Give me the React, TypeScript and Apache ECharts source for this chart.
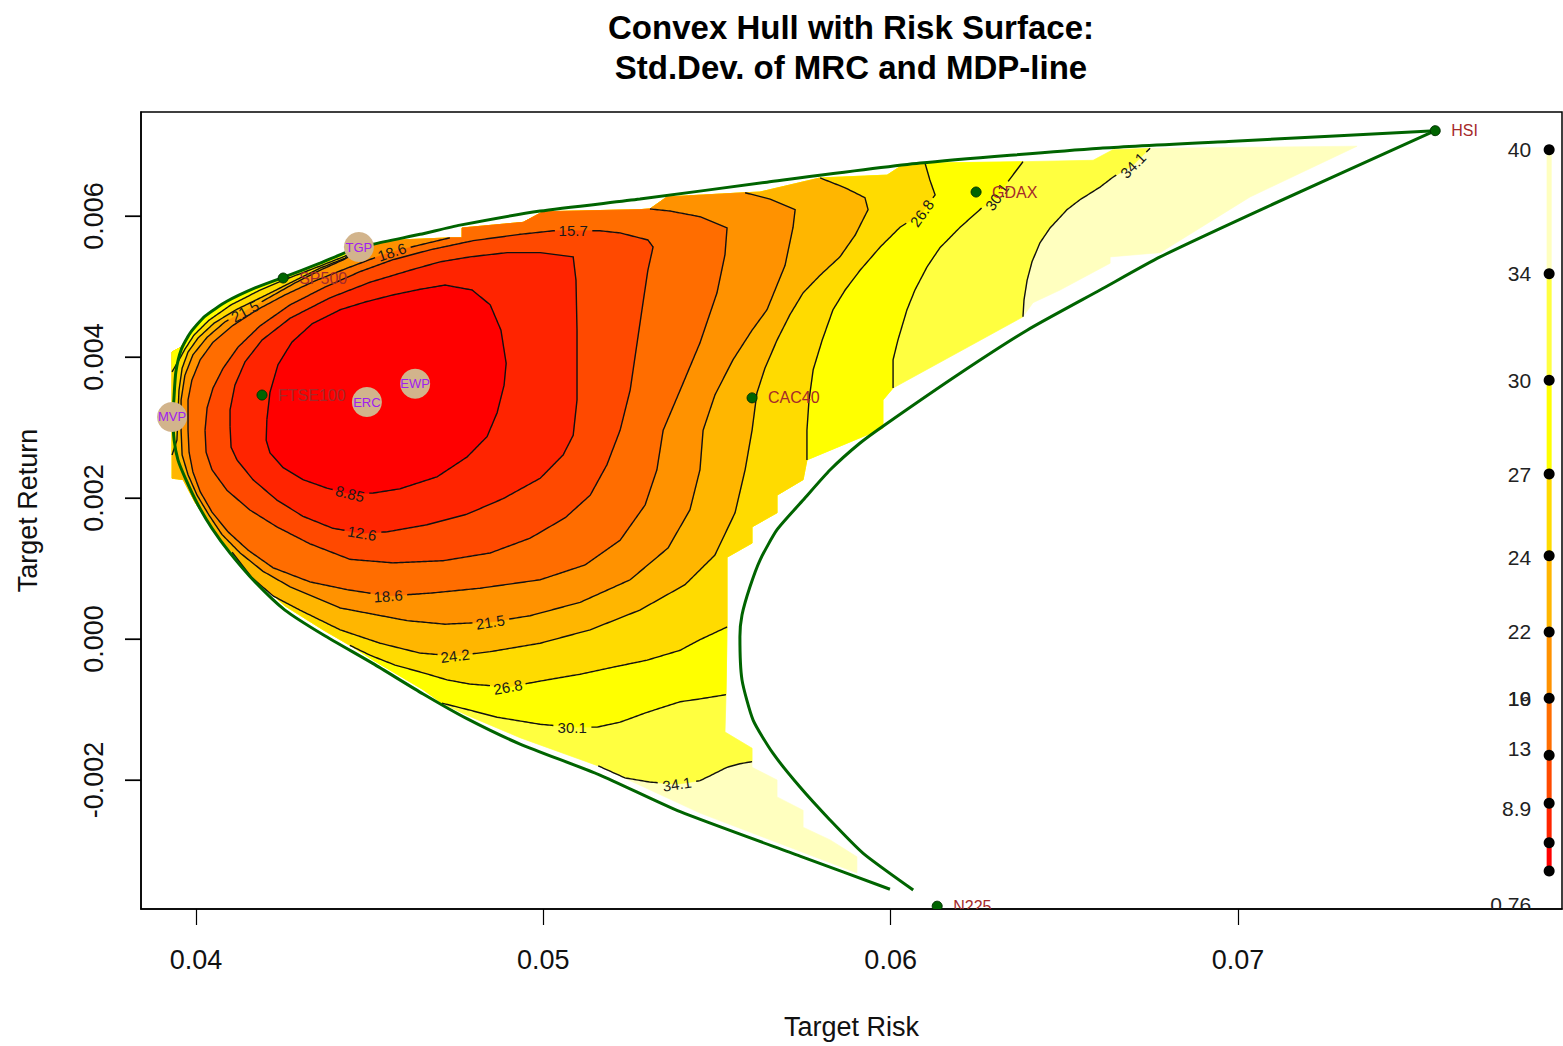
import React, { useEffect, useRef } from "react";
import * as echarts from "echarts";

type P = [number, number];
const FONT = "'Liberation Sans', Arial, Helvetica, sans-serif";

// ---------- axes ----------
const xRange: P = [0.038416, 0.07933];
const yRange: P = [-0.00383, 0.007475];
const xTicks = [0.04, 0.05, 0.06, 0.07];
const yTicks = [-0.002, 0, 0.002, 0.004, 0.006];

// ---------- palette (heat.colors(10)) ----------
const heatColors = ["#FF0000", "#FF2400", "#FF4900", "#FF6D00", "#FF9200", "#FFB600", "#FFDB00", "#FFFF00", "#FFFF40", "#FFFFBF"];

// ---------- rim of the evaluated surface (risk, return), clockwise in chunks ----------
const rim1a: P[] = [[0.04098, 0.00126], [0.0404, 0.00162], [0.03997, 0.00194], [0.03963, 0.00226], [0.03931, 0.00228], [0.03931, 0.00407]];
const rim1b: P[] = [[0.03931, 0.00407], [0.03957, 0.00414], [0.03983, 0.00434], [0.04026, 0.00458], [0.04089, 0.00479], [0.0417, 0.00498], [0.04251, 0.00513], [0.04357, 0.00533], [0.04435, 0.00548], [0.04472, 0.00553]];
const rim2: P[] = [[0.04472, 0.00553], [0.0451, 0.00559], [0.04587, 0.00566], [0.04731, 0.00569]];
const rim3: P[] = [[0.04731, 0.00569], [0.04766, 0.00569], [0.04766, 0.00583], [0.04942, 0.00591], [0.04999, 0.00606], [0.05278, 0.00609], [0.05307, 0.0061]];
const rim4: P[] = [[0.05307, 0.0061], [0.05356, 0.00627], [0.05581, 0.00633]];
const rim5: P[] = [[0.05581, 0.00633], [0.05624, 0.00634], [0.05797, 0.00654]];
const rim6: P[] = [[0.05797, 0.00654], [0.0599, 0.00658], [0.06027, 0.0067], [0.06099, 0.00675]];
const rim7: P[] = [[0.06099, 0.00675], [0.06381, 0.00677]];
const rim8: P[] = [[0.06381, 0.00677], [0.06583, 0.00679], [0.0664, 0.00694], [0.06747, 0.00696]];
const rim9: P[] = [[0.06747, 0.00696], [0.07343, 0.00699], [0.07035, 0.00627], [0.06776, 0.00548], [0.06632, 0.00542], [0.06632, 0.00533], [0.06488, 0.00495], [0.0641, 0.00477], [0.06381, 0.00457]];
const rim10: P[] = [[0.06381, 0.00457], [0.06007, 0.00356]];
const rim11: P[] = [[0.06007, 0.00356], [0.05978, 0.00339], [0.05978, 0.00299], [0.05759, 0.00254]];
const rim12: P[] = [[0.05759, 0.00254], [0.05748, 0.00226], [0.05673, 0.00204], [0.05673, 0.00179], [0.05601, 0.00159], [0.05601, 0.00136], [0.05529, 0.00116], [0.05529, 0.00017]];
const rim13: P[] = [[0.05529, 0.00017], [0.05526, -0.00079]];
const rim14: P[] = [[0.05526, -0.00079], [0.05523, -0.00132], [0.05601, -0.00155], [0.05601, -0.00174]];
const rim15: P[] = [[0.05601, -0.00174], [0.05601, -0.00182], [0.05673, -0.002], [0.05673, -0.00224], [0.05748, -0.00243], [0.05748, -0.00267], [0.05826, -0.00285], [0.05903, -0.00309], [0.05903, -0.00332], [0.05739, -0.00301], [0.05451, -0.00247], [0.05158, -0.0018]];
const rim16: P[] = [[0.05158, -0.0018], [0.04933, -0.0014], [0.0478, -0.00108], [0.04708, -0.00091]];
const rim17: P[] = [[0.04708, -0.00091], [0.04654, -0.00072], [0.0451, -0.0003], [0.04443, -0.00009]];
const rim18: P[] = [[0.04443, -0.00009], [0.04366, 0.00013], [0.04256, 0.00047], [0.0417, 0.00085], [0.04098, 0.00126]];

// ---------- contour lines of Std.Dev. of MRC ----------
const iso885: P[] = [[0.04204, 0.00311], [0.04202, 0.00282], [0.04213, 0.00264], [0.04251, 0.00243], [0.04308, 0.00226], [0.04377, 0.00214], [0.04443, 0.00206], [0.0451, 0.00207], [0.04587, 0.00213], [0.04694, 0.0023], [0.0478, 0.00258], [0.04838, 0.00287], [0.04867, 0.00321], [0.04887, 0.0036], [0.04893, 0.00391], [0.04878, 0.00438], [0.04847, 0.00474], [0.04795, 0.00495], [0.04717, 0.00502], [0.04645, 0.00496], [0.04567, 0.00488], [0.04487, 0.00478], [0.04415, 0.00467], [0.04334, 0.00447], [0.04276, 0.00421], [0.04236, 0.00389], [0.04213, 0.0035], [0.04204, 0.00311]];
const iso126: P[] = [[0.04098, 0.00301], [0.04101, 0.00272], [0.04118, 0.00254], [0.04164, 0.00226], [0.04233, 0.00197], [0.04308, 0.00174], [0.04394, 0.00157], [0.04478, 0.0015], [0.0455, 0.00152], [0.04665, 0.00162], [0.0478, 0.00177], [0.04884, 0.00199], [0.04991, 0.00228], [0.05057, 0.00261], [0.05086, 0.00289], [0.05097, 0.00339], [0.05097, 0.00438], [0.05094, 0.00509], [0.05086, 0.00542], [0.04991, 0.00548], [0.04896, 0.00548], [0.04789, 0.00542], [0.04703, 0.00535], [0.04616, 0.00523], [0.04501, 0.00506], [0.04386, 0.00484], [0.04271, 0.00455], [0.0419, 0.00424], [0.04141, 0.00393], [0.04112, 0.0036], [0.04098, 0.00325], [0.04098, 0.00301]];
const iso157: P[] = [[0.04026, 0.00296], [0.04029, 0.00265], [0.04046, 0.0024], [0.04089, 0.00211], [0.04155, 0.00183], [0.04233, 0.00159], [0.04328, 0.00135], [0.04443, 0.00113], [0.04567, 0.00108], [0.04711, 0.00111], [0.04847, 0.00122], [0.04962, 0.00143], [0.05063, 0.00172], [0.05135, 0.00204], [0.05183, 0.00247], [0.05221, 0.00296], [0.0525, 0.00353], [0.05267, 0.0041], [0.05284, 0.00467], [0.05301, 0.00523], [0.05316, 0.00556], [0.05301, 0.00566], [0.05221, 0.00576], [0.05163, 0.00579], [0.05086, 0.00579], [0.05028, 0.00579], [0.04933, 0.00574], [0.04798, 0.00565], [0.04674, 0.00552], [0.04567, 0.00538], [0.04472, 0.00521], [0.04371, 0.00499], [0.04271, 0.00474], [0.04184, 0.00444], [0.04121, 0.00414], [0.04078, 0.00384], [0.04049, 0.00356], [0.04032, 0.00328], [0.04026, 0.00296]];
const iso186: P[] = [[0.05307, 0.0061], [0.05365, 0.00607], [0.05451, 0.00599], [0.05529, 0.00583], [0.05523, 0.00545], [0.055, 0.00491], [0.05451, 0.0042], [0.05394, 0.00353], [0.05345, 0.00296], [0.05327, 0.0024], [0.05293, 0.0019], [0.05221, 0.0014], [0.0512, 0.00105], [0.04991, 0.00084], [0.04818, 0.00072], [0.04674, 0.00065], [0.04553, 0.00061], [0.04435, 0.0007], [0.04328, 0.00081], [0.04222, 0.00101], [0.0415, 0.00126], [0.04092, 0.00152], [0.04046, 0.0018], [0.04012, 0.00209], [0.03991, 0.00237], [0.0398, 0.00265], [0.03977, 0.00296], [0.03977, 0.00339], [0.03988, 0.00367], [0.04012, 0.00396], [0.04049, 0.00421], [0.04104, 0.00444], [0.04176, 0.00467], [0.04256, 0.00488], [0.04343, 0.00508], [0.04435, 0.00526], [0.04521, 0.00542], [0.04564, 0.00549], [0.04645, 0.00559], [0.04731, 0.00569]];
const iso215: P[] = [[0.05581, 0.00633], [0.05653, 0.00624], [0.05725, 0.00609], [0.05719, 0.00584], [0.05696, 0.0053], [0.05644, 0.00467], [0.05601, 0.00438], [0.05546, 0.00396], [0.05494, 0.00346], [0.0546, 0.00296], [0.05451, 0.0024], [0.05422, 0.00183], [0.05359, 0.00129], [0.0525, 0.00084], [0.05106, 0.00052], [0.04962, 0.00033], [0.04847, 0.00024], [0.04717, 0.00021], [0.04608, 0.00026], [0.04415, 0.00044], [0.04271, 0.00074], [0.04193, 0.00096], [0.04127, 0.00122], [0.04075, 0.00148], [0.04037, 0.00176], [0.04003, 0.00204], [0.03977, 0.00233], [0.0396, 0.00261], [0.03957, 0.00296], [0.03957, 0.00339], [0.03968, 0.00374], [0.03991, 0.00403], [0.04032, 0.00428], [0.04084, 0.0045], [0.04141, 0.00465], [0.04213, 0.00485], [0.04285, 0.00505], [0.04357, 0.00523], [0.04429, 0.00539], [0.04478, 0.00553]];
const iso242: P[] = [[0.05797, 0.00654], [0.05869, 0.0064], [0.05926, 0.00626], [0.05935, 0.00609], [0.05898, 0.00573], [0.05854, 0.00542], [0.05797, 0.00516], [0.05748, 0.00491], [0.0571, 0.0046], [0.05673, 0.00424], [0.05638, 0.00384], [0.05615, 0.00349], [0.05601, 0.00296], [0.05581, 0.0024], [0.05552, 0.00179], [0.05494, 0.00119], [0.05408, 0.00077], [0.05278, 0.00041], [0.05135, 0.00013], [0.04991, -0.00006], [0.04847, -0.00018], [0.04746, -0.00024], [0.04645, -0.0002], [0.0453, -0.00006], [0.04415, 0.00013], [0.04299, 0.00041], [0.04222, 0.00061], [0.04161, 0.00087], [0.04104, 0.00123]];
const iso242Left: P[] = [[0.03931, 0.00261], [0.03945, 0.00282], [0.03948, 0.00318], [0.03951, 0.00353], [0.0396, 0.00384], [0.03977, 0.00407], [0.04006, 0.00427], [0.04052, 0.00448], [0.04115, 0.00467], [0.0419, 0.00485], [0.04271, 0.00505], [0.04357, 0.00526], [0.04429, 0.0054], [0.04449, 0.00549]];
const iso268Top: P[] = [[0.06099, 0.00675], [0.06113, 0.00651], [0.06128, 0.0063], [0.0609, 0.00604], [0.06027, 0.00584], [0.0597, 0.00556], [0.05912, 0.00523], [0.05869, 0.00495], [0.05834, 0.00467], [0.05803, 0.00424], [0.05777, 0.00382], [0.05765, 0.00339], [0.05759, 0.00296], [0.05759, 0.00254]];
const iso268Low: P[] = [[0.05529, 0.00017], [0.05451, -0.00001], [0.05394, -0.00016], [0.05299, -0.0003], [0.05201, -0.0004], [0.05106, -0.0005], [0.05011, -0.00058], [0.04898, -0.00068], [0.04789, -0.00064], [0.04723, -0.00058], [0.04654, -0.00048], [0.04573, -0.00037], [0.04501, -0.00023], [0.04443, -0.00009]];
const iso268Left: P[] = [[0.03931, 0.00379], [0.03948, 0.00393], [0.03968, 0.00411], [0.03994, 0.00431], [0.04037, 0.00452], [0.04101, 0.00474], [0.04181, 0.00494], [0.04262, 0.00511], [0.04357, 0.00529], [0.04429, 0.00543], [0.04449, 0.00549]];
const iso301Top: P[] = [[0.06381, 0.00677], [0.06358, 0.00662], [0.06335, 0.00647], [0.06306, 0.00627], [0.06266, 0.00613], [0.062, 0.00584], [0.06142, 0.00555], [0.06105, 0.00528], [0.0607, 0.00495], [0.06047, 0.00467], [0.06021, 0.00424], [0.06007, 0.00396], [0.06007, 0.00356]];
const iso301Low: P[] = [[0.05526, -0.00079], [0.05451, -0.00085], [0.05394, -0.00089], [0.05299, -0.00104], [0.05221, -0.00118], [0.05155, -0.00125], [0.05083, -0.00125], [0.04991, -0.00121], [0.04867, -0.00111], [0.04789, -0.00101], [0.04708, -0.00091]];
const iso341Top: P[] = [[0.06747, 0.00696], [0.06718, 0.00682], [0.06698, 0.00672], [0.0664, 0.00655], [0.06603, 0.00641], [0.06545, 0.00623], [0.06508, 0.00609], [0.06459, 0.00583], [0.0643, 0.00562], [0.06407, 0.00535], [0.06393, 0.00509], [0.06384, 0.00481], [0.06381, 0.00457]];
const iso341Low: P[] = [[0.05601, -0.00174], [0.05566, -0.00177], [0.05529, -0.00182], [0.0548, -0.00194], [0.05451, -0.00201], [0.05385, -0.00206], [0.05307, -0.00203], [0.05235, -0.00197], [0.05158, -0.0018]];

const isoLabelText = ["8.85", "12.6", "15.7", "18.6", "18.6", "21.5", "21.5", "24.2", "26.8", "26.8", "30.1", "30.1", "34.1", "34.1"];
const isoLabelAt: P[] = [[0.04443, 0.00206], [0.04478, 0.0015], [0.05086, 0.00579], [0.04553, 0.00061], [0.04564, 0.00549], [0.04847, 0.00024], [0.04141, 0.00465], [0.04746, -0.00024], [0.0609, 0.00604], [0.04898, -0.00068], [0.06306, 0.00627], [0.05083, -0.00125], [0.06698, 0.00672], [0.05385, -0.00206]];

// ---------- convex hull / frontier ----------
const hullUpper: P[] = [[0.05998, -0.00355], [0.05739, -0.00308], [0.05394, -0.00245], [0.05163, -0.00193], [0.04933, -0.00149], [0.0478, -0.00113], [0.04654, -0.00078], [0.0451, -0.00035], [0.04366, 0.00006], [0.04256, 0.00041], [0.0417, 0.00081], [0.04098, 0.00122], [0.04046, 0.00157], [0.04006, 0.0019], [0.03971, 0.00226], [0.03948, 0.00254], [0.03937, 0.00282], [0.03934, 0.00315], [0.03937, 0.00346], [0.03942, 0.00379], [0.03957, 0.0041], [0.03983, 0.00434], [0.04026, 0.00458], [0.04089, 0.00479], [0.0417, 0.00498], [0.04251, 0.00513], [0.04357, 0.00533], [0.04435, 0.00549], [0.0451, 0.0056], [0.04645, 0.00574], [0.0476, 0.00587], [0.04991, 0.00607], [0.05278, 0.00624], [0.05644, 0.00648], [0.06085, 0.00675], [0.06603, 0.00696], [0.06986, 0.00706], [0.07568, 0.00721]];
const hullLower: P[] = [[0.07568, 0.00721], [0.07084, 0.00613], [0.06776, 0.00542], [0.06603, 0.00495], [0.06393, 0.00438], [0.062, 0.00377], [0.05984, 0.00304], [0.05912, 0.00278], [0.05826, 0.0024], [0.05748, 0.00197], [0.05673, 0.00155], [0.05624, 0.00112], [0.05595, 0.00074], [0.05572, 0.00034], [0.05566, 0.00003], [0.05572, -0.00058], [0.05604, -0.00115], [0.05661, -0.00162], [0.05739, -0.0021], [0.05826, -0.00257], [0.05921, -0.00304], [0.06065, -0.00356]];

// ---------- assets and special portfolios ----------
const assetNames = ["HSI", "GDAX", "CAC40", "FTSE100", "SP500", "N225"];
const assetRisk = [0.07568, 0.06246, 0.05601, 0.0419, 0.04251, 0.06134];
const assetReturn = [0.00721, 0.00634, 0.00342, 0.00346, 0.00512, -0.00379];

const portfolioNames = ["MVP", "TGP", "ERC", "EWP"];
const portfolioRisk = [0.03931, 0.04469, 0.04492, 0.04631];
const portfolioReturn = [0.00315, 0.00556, 0.00336, 0.00362];

// ---------- colour legend (drawn in user coordinates, as in R) ----------
const legendRisk = 0.07896;
const legendDots = [0.00694, 0.00518, 0.00367, 0.00234, 0.00118, 0.0001, -0.00084, -0.00165, -0.00233, -0.00289, -0.00329];
const legendSegmentColors = ["#FFFFBF", "#FFFF40", "#FFFF00", "#FFDB00", "#FFB600", "#FF9200", "#FF6D00", "#FF4900", "#FF2400", "#FF0000"];
const legendLabels = ["40", "34", "30", "27", "24", "22", "19", "16", "13", "8.9", "0.76"];
const legendLabelAt = [0.00694, 0.00518, 0.00367, 0.00234, 0.00116, 0.0001, -0.00084, -0.00084, -0.00155, -0.0024, -0.00377];

// ---------- derived structures ----------
const rim1: P[] = [...rim1a, ...rim1b];
const shoulderBack: P[] = rim1b.slice().reverse();
const surfaceRegion: P[] = [...rim1, ...rim2, ...rim3, ...rim4, ...rim5, ...rim6, ...rim7, ...rim8, ...rim9, ...rim10, ...rim11, ...rim12, ...rim13, ...rim14, ...rim15, ...rim16, ...rim17, ...rim18];
const below341: P[] = [...iso341Top, ...rim10, ...rim11, ...rim12, ...rim13, ...rim14, ...iso341Low, ...rim16, ...rim17, ...rim18, ...rim1, ...rim2, ...rim3, ...rim4, ...rim5, ...rim6, ...rim7, ...rim8];
const below301: P[] = [...iso301Top, ...rim11, ...rim12, ...rim13, ...iso301Low, ...rim17, ...rim18, ...rim1, ...rim2, ...rim3, ...rim4, ...rim5, ...rim6, ...rim7];
const below268: P[] = [...iso268Top, ...rim12, ...iso268Low, ...rim18, ...rim1, ...rim2, ...rim3, ...rim4, ...rim5, ...rim6];
const below242: P[] = [...iso242, ...rim1, ...rim2, ...rim3, ...rim4, ...rim5];
const below215: P[] = [...iso215, ...rim2, ...rim3, ...rim4];
const below186: P[] = [...iso186, ...rim3];
const above242Shoulder: P[] = [...iso242Left, ...shoulderBack];
const above268Shoulder: P[] = [...iso268Left, ...shoulderBack];
const bandRegions: P[][] = [surfaceRegion, below341, below301, below268, below242, below215, below186, iso157, iso126, iso885, above242Shoulder, above268Shoulder];
const bandFills = [heatColors[9], heatColors[8], heatColors[7], heatColors[6], heatColors[5], heatColors[4], heatColors[3], heatColors[2], heatColors[1], heatColors[0], heatColors[6], heatColors[7]];

const isoPieces = [
  { level: "8.85", pts: iso885 },
  { level: "12.6", pts: iso126 },
  { level: "15.7", pts: iso157 },
  { level: "18.6", pts: iso186 },
  { level: "21.5", pts: iso215 },
  { level: "24.2", pts: iso242 },
  { level: "24.2", pts: iso242Left },
  { level: "26.8", pts: iso268Top },
  { level: "26.8", pts: iso268Low },
  { level: "26.8", pts: iso268Left },
  { level: "30.1", pts: iso301Top },
  { level: "30.1", pts: iso301Low },
  { level: "34.1", pts: iso341Top },
  { level: "34.1", pts: iso341Low },
];

const LABEL_SIZE = 15;
function textWidth(s: string, size: number) {
  let w = 0;
  for (const ch of s) w += ch === "." ? 0.278 : 0.556;
  return w * size;
}
function segDist(p: number[], a: number[], b: number[]) {
  const dx = b[0] - a[0], dy = b[1] - a[1];
  const L = dx * dx + dy * dy;
  let t = L > 0 ? ((p[0] - a[0]) * dx + (p[1] - a[1]) * dy) / L : 0;
  t = Math.max(0, Math.min(1, t));
  return Math.hypot(p[0] - (a[0] + t * dx), p[1] - (a[1] + t * dy));
}

function renderBand(params: any, api: any) {
  const i = params.dataIndex;
  const pts = bandRegions[i].map((p) => api.coord(p));
  return {
    type: "polygon",
    silent: true,
    shape: { points: pts },
    style: { fill: bandFills[i], stroke: bandFills[i], lineWidth: 0.6 },
  };
}

function renderIso(params: any, api: any) {
  const piece = isoPieces[params.dataIndex];
  const px: number[][] = piece.pts.map((p) => api.coord(p));
  const mine: { t: string; c: number[]; ang: number; h: number }[] = [];
  isoLabelText.forEach((t, li) => {
    if (t !== piece.level) return;
    const c = api.coord(isoLabelAt[li]);
    let best = Infinity;
    let ang = 0;
    for (let i = 0; i < px.length - 1; i++) {
      const d = segDist(c, px[i], px[i + 1]);
      if (d < best) {
        best = d;
        ang = Math.atan2(-(px[i + 1][1] - px[i][1]), px[i + 1][0] - px[i][0]);
      }
    }
    if (best < 3) {
      if (ang > Math.PI / 2) ang -= Math.PI;
      if (ang < -Math.PI / 2) ang += Math.PI;
      mine.push({ t, c, ang, h: textWidth(t, LABEL_SIZE) / 2 + 3 });
    }
  });
  const keep = (q: number[]) => mine.every((m) => Math.hypot(q[0] - m.c[0], q[1] - m.c[1]) > m.h);
  const runs: number[][][] = [];
  let cur: number[][] = [];
  for (let i = 0; i < px.length - 1; i++) {
    const a = px[i], b = px[i + 1];
    const n = Math.max(1, Math.ceil(Math.hypot(b[0] - a[0], b[1] - a[1]) / 2));
    for (let k = 0; k < n; k++) {
      const q = [a[0] + ((b[0] - a[0]) * k) / n, a[1] + ((b[1] - a[1]) * k) / n];
      if (keep(q)) cur.push(q);
      else {
        if (cur.length > 1) runs.push(cur);
        cur = [];
      }
    }
  }
  const last = px[px.length - 1];
  if (keep(last)) cur.push(last);
  if (cur.length > 1) runs.push(cur);
  const children: any[] = runs.map((r) => ({
    type: "polyline",
    silent: true,
    shape: { points: r },
    style: { stroke: "#111111", lineWidth: 1.4, fill: "none" },
  }));
  mine.forEach((m) => {
    children.push({
      type: "text",
      silent: true,
      x: m.c[0],
      y: m.c[1],
      rotation: m.ang,
      style: {
        text: m.t,
        fill: "#1a1a1a",
        font: `${LABEL_SIZE}px ${FONT}`,
        textAlign: "center",
        textVerticalAlign: "middle",
        align: "center",
        verticalAlign: "middle",
      },
    });
  });
  return { type: "group", children };
}

function renderAsset(params: any, api: any) {
  const i = params.dataIndex;
  const c = api.coord([assetRisk[i], assetReturn[i]]);
  return {
    type: "group",
    children: [
      { type: "circle", shape: { cx: c[0], cy: c[1], r: 5 }, style: { fill: "#006400", stroke: "#003300", lineWidth: 1 } },
      {
        type: "text",
        x: c[0] + 16,
        y: c[1],
        style: { text: assetNames[i], fill: "#A52A2A", font: `16px ${FONT}`, textAlign: "left", textVerticalAlign: "middle", align: "left", verticalAlign: "middle" },
      },
    ],
  };
}

function renderLegendBar(params: any, api: any) {
  const i = params.dataIndex;
  const a = api.coord([legendRisk, legendDots[i]]);
  const b = api.coord([legendRisk, legendDots[i + 1]]);
  return { type: "line", shape: { x1: a[0], y1: a[1], x2: b[0], y2: b[1] }, style: { stroke: legendSegmentColors[i], lineWidth: 5 } };
}

function renderLegendLabel(params: any, api: any) {
  const i = params.dataIndex;
  const c = api.coord([legendRisk, legendLabelAt[i]]);
  return {
    type: "text",
    x: c[0] - 18,
    y: c[1],
    style: { text: legendLabels[i], fill: "#222222", font: `21px ${FONT}`, textAlign: "right", textVerticalAlign: "middle", align: "right", verticalAlign: "middle" },
  };
}

// tick marks on the left axis, drawn outward from the plot box
function renderYTick(params: any, api: any) {
  const i = params.dataIndex;
  const c = api.coord([xRange[0], yTicks[i]]);
  return { type: "line", shape: { x1: c[0] - 16, y1: c[1], x2: c[0], y2: c[1] }, style: { stroke: "#000000", lineWidth: 1.2 } };
}

const axisText = { fontSize: 27, fontFamily: FONT, color: "#111111" };

const option: any = {
  animation: false,
  backgroundColor: "#ffffff",
  graphic: [
    { type: "text", x: 851, y: 27, style: { text: "Convex Hull with Risk Surface:", font: `bold 33px ${FONT}`, fill: "#000000", textAlign: "center", textVerticalAlign: "middle" } },
    { type: "text", x: 851, y: 67, style: { text: "Std.Dev. of MRC and MDP-line", font: `bold 33px ${FONT}`, fill: "#000000", textAlign: "center", textVerticalAlign: "middle" } },
  ],
  grid: { left: 141, right: 1, top: 112, bottom: 137, show: true, borderColor: "#000000", borderWidth: 1.5, backgroundColor: "transparent" },
  xAxis: {
    type: "value",
    position: "bottom",
    min: xRange[0],
    max: xRange[1],
    splitLine: { show: false },
    axisLine: { show: true, onZero: false, lineStyle: { color: "#000000", width: 1.5 } },
    axisTick: { show: true, length: 16, lineStyle: { color: "#000000", width: 1.2 }, customValues: xTicks },
    axisLabel: { ...axisText, customValues: xTicks, margin: 37, formatter: (v: number) => v.toFixed(2) },
    name: "Target Risk",
    nameLocation: "middle",
    nameGap: 104,
    nameTextStyle: axisText,
  },
  yAxis: {
    type: "value",
    position: "left",
    min: yRange[0],
    max: yRange[1],
    splitLine: { show: false },
    axisLine: { show: true, onZero: false, lineStyle: { color: "#000000", width: 1.5 } },
    axisTick: { show: true, length: 16, lineStyle: { color: "#000000", width: 1.2 }, customValues: yTicks },
    axisLabel: { ...axisText, customValues: yTicks, margin: 34, rotate: 90, formatter: (v: number) => v.toFixed(3) },
    name: "Target Return",
    nameLocation: "middle",
    nameGap: 100,
    nameRotate: 90,
    nameTextStyle: axisText,
  },
  series: [
    { type: "custom", name: "surface", z: 1, clip: true, renderItem: renderBand, data: bandRegions.map((r) => r[0]) },
    { type: "custom", name: "contours", z: 2, clip: true, renderItem: renderIso, data: isoPieces.map((p) => p.pts[0]) },
    { type: "line", name: "hullUpper", z: 3, data: hullUpper, showSymbol: false, smooth: 0.2, lineStyle: { color: "#006400", width: 3 }, silent: true },
    { type: "line", name: "hullLower", z: 3, data: hullLower, showSymbol: false, smooth: 0.2, lineStyle: { color: "#006400", width: 3 }, silent: true },
    { type: "custom", name: "assets", z: 4, clip: true, renderItem: renderAsset, data: assetRisk.map((x, i) => [x, assetReturn[i]]) },
    {
      type: "scatter",
      name: "portfolios",
      z: 5,
      symbol: "circle",
      symbolSize: 30,
      itemStyle: { color: "#D2B48C", opacity: 1 },
      label: { show: true, position: "inside", formatter: (p: any) => p.name, color: "#A020F0", fontSize: 13, fontFamily: FONT },
      data: portfolioNames.map((n, i) => ({ name: n, value: [portfolioRisk[i], portfolioReturn[i]] })),
      silent: true,
    },
    { type: "custom", name: "legendBar", z: 6, clip: true, renderItem: renderLegendBar, data: legendSegmentColors.map((_, i) => [legendRisk, legendDots[i]]) },
    { type: "scatter", name: "legendDots", z: 7, symbol: "circle", symbolSize: 11, itemStyle: { color: "#000000", opacity: 1 }, data: legendDots.map((y) => [legendRisk, y]), silent: true },
    { type: "custom", name: "legendLabels", z: 7, clip: true, renderItem: renderLegendLabel, data: legendLabels.map((_, i) => [legendRisk, legendLabelAt[i]]) },
    { type: "custom", name: "yTicks", z: 8, clip: false, renderItem: renderYTick, data: yTicks.map((v) => [xRange[0], v]) },
  ],
};

export default function App() {
  const ref = useRef<HTMLDivElement>(null);
  useEffect(() => {
    if (!ref.current) return;
    const chart = echarts.init(ref.current, null, { renderer: "svg" });
    chart.setOption(option);
    return () => chart.dispose();
  }, []);
  return <div ref={ref} style={{ position: "absolute", left: 0, top: 0, width: 1563, height: 1046, background: "#ffffff" }} />;
}
